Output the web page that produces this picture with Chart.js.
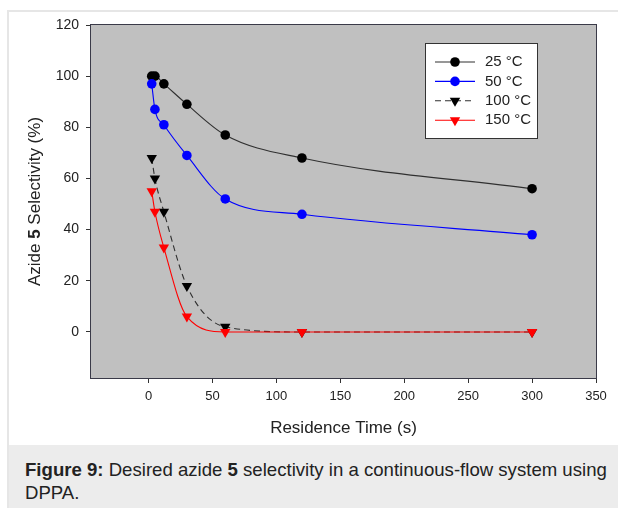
<!DOCTYPE html>
<html>
<head>
<meta charset="utf-8">
<script src="https://cdn.jsdelivr.net/npm/chart.js@4.4.1/dist/chart.umd.min.js"></script>
<style>
  html, body { margin: 0; padding: 0; background: #fff; }
  #page { position: relative; width: 618px; height: 508px; overflow: hidden; font-family: "Liberation Sans", Arial, sans-serif; }
  #frame { position: absolute; left: 7px; top: 10px; width: 611px; height: 498px;
           border-top: 2px solid #e6e6e6; border-left: 2px solid #e6e6e6; box-sizing: border-box; }
  #chartBox { position: absolute; left: 0; top: 0; width: 618px; height: 445px; }
  #caption { position: absolute; left: 9px; top: 445px; width: 609px; height: 63px; background: #ececec;
             box-sizing: border-box; padding: 13px 2px 0 16px; font-size: 18.6px; line-height: 23px; color: #222; }
</style>
</head>
<body>
<div id="page">
  <div id="frame"></div>
  <div id="chartBox"><canvas id="c" width="618" height="445"></canvas></div>
  <div id="caption"><b>Figure 9:</b> Desired azide <b>5</b> selectivity in a continuous-flow system using DPPA.</div>
</div>
<script>
// Residence times (s)
const times = [2.5, 5, 12, 30, 60, 120, 300];
// Azide 5 selectivity (%) at each temperature
const sel25 = [100, 100, 97, 89, 77, 68, 56];
const sel50 = [97, 87, 81, 69, 52, 46, 38];
const sel100 = [68, 60, 47, 18, 2, 0, 0];
const sel150 = [55, 47, 33, 6, 0, 0, 0];
const seriesLabels = ['25 °C', '50 °C', '100 °C', '150 °C'];
const xTicks = [0, 50, 100, 150, 200, 250, 300, 350];
const yTicks = [0, 20, 40, 60, 80, 100, 120];

const FONT = '"Liberation Sans", Arial, sans-serif';
const pts = arr => times.map((t, i) => ({ x: t, y: arr[i] }));

function series(label, values, color, markerColor, style, dash, order) {
  const tri = style === 'triangle';
  return {
    label, data: pts(values), showLine: true,
    borderColor: color, backgroundColor: markerColor, borderWidth: 1.1,
    borderDash: dash, cubicInterpolationMode: 'monotone',
    pointStyle: style, pointRotation: tri ? 180 : 0,
    pointRadius: tri ? 6 : 4.8, pointBorderWidth: 0,
    pointBackgroundColor: markerColor,
    order
  };
}

const datasets = [
  series(seriesLabels[0], sel25, '#303030', '#000', 'circle', [], 4),
  series(seriesLabels[1], sel50, '#0000ff', '#0000ff', 'circle', [], 3),
  series(seriesLabels[2], sel100, '#303030', '#000', 'triangle', [6, 4], 2),
  series(seriesLabels[3], sel150, '#ff0000', '#ff0000', 'triangle', [], 1)
];

// grey plot background and frame around the data area
const plotFrame = {
  id: 'plotFrame',
  beforeDatasetsDraw(chart) {
    const { ctx, chartArea: a } = chart;
    ctx.save();
    ctx.fillStyle = '#c0c0c0';
    ctx.fillRect(a.left, a.top, a.right - a.left, a.bottom - a.top);
    ctx.strokeStyle = '#3a3a48';
    ctx.lineWidth = 1;
    ctx.strokeRect(Math.round(a.left) - 0.5, Math.round(a.top) - 0.5,
                   Math.round(a.right - a.left) + 1, Math.round(a.bottom - a.top) + 1);
    ctx.restore();
  }
};

// y-axis title with bold compound number
const yTitle = {
  id: 'yTitle',
  afterDraw(chart) {
    const { ctx, chartArea: a } = chart;
    const parts = [['Azide ', 'normal'], ['5', 'bold'], [' Selectivity (%)', 'normal']];
    ctx.save();
    ctx.translate(35, (a.top + a.bottom) / 2);
    ctx.rotate(-Math.PI / 2);
    ctx.fillStyle = '#222';
    ctx.textBaseline = 'middle';
    let total = 0;
    parts.forEach(([t, w]) => { ctx.font = w + ' 17px ' + FONT; total += ctx.measureText(t).width; });
    let x = -total / 2;
    parts.forEach(([t, w]) => {
      ctx.font = w + ' 17px ' + FONT;
      ctx.fillText(t, x, 0);
      x += ctx.measureText(t).width;
    });
    ctx.restore();
  }
};

// legend box inside the plot, upper right
const boxLegend = {
  id: 'boxLegend',
  afterDatasetsDraw(chart) {
    const { ctx, chartArea: a } = chart;
    const left = a.right - 171, top = a.top + 18, w = 112, h = 95;
    ctx.save();
    ctx.fillStyle = '#fff';
    ctx.fillRect(left, top, w, h);
    ctx.strokeStyle = '#333';
    ctx.lineWidth = 1;
    ctx.strokeRect(left + 0.5, top + 0.5, w, h);
    chart.data.datasets.forEach((ds, i) => {
      const y = top + 19 + i * 19.4;
      ctx.strokeStyle = ds.borderColor;
      ctx.lineWidth = 1.1;
      ctx.setLineDash(ds.borderDash || []);
      ctx.beginPath();
      ctx.moveTo(left + 10, y);
      ctx.lineTo(left + 50, y);
      ctx.stroke();
      ctx.setLineDash([]);
      ctx.fillStyle = ds.pointBackgroundColor;
      ctx.strokeStyle = ds.pointBackgroundColor;
      Chart.helpers.drawPoint(ctx, {
        pointStyle: ds.pointStyle, rotation: ds.pointRotation,
        radius: ds.pointRadius, borderWidth: 0
      }, left + 30, y);
      ctx.fillStyle = '#222';
      ctx.font = '15px ' + FONT;
      ctx.textBaseline = 'middle';
      ctx.fillText(ds.label, left + 60, y);
    });
    ctx.restore();
  }
};

new Chart(document.getElementById('c'), {
  type: 'scatter',
  data: { datasets },
  plugins: [plotFrame, boxLegend, yTitle],
  options: {
    responsive: false,
    animation: false,
    layout: { padding: { top: 25, right: 22, left: 0, bottom: 0 } },
    plugins: { legend: { display: false }, tooltip: { enabled: false } },
    scales: {
      x: {
        type: 'linear', min: -45, max: 350,
        afterBuildTicks: s => { s.ticks = xTicks.map(v => ({ value: v })); },
        afterFit: s => { s.height = 67; },
        grid: { drawOnChartArea: false, drawTicks: true, tickLength: 5, color: '#333' },
        border: { display: false },
        ticks: { padding: 6, color: '#222', font: { family: FONT, size: 13 }, maxRotation: 0 },
        title: { display: true, text: 'Residence Time (s)', color: '#222',
                 font: { family: FONT, size: 17 }, padding: { top: 0, bottom: 6 } }
      },
      y: {
        type: 'linear', min: -18, max: 120,
        afterBuildTicks: s => { s.ticks = yTicks.map(v => ({ value: v })); },
        afterFit: s => { s.width = 91; },
        grid: { drawOnChartArea: false, drawTicks: true, tickLength: 5, color: '#333' },
        border: { display: false },
        ticks: { padding: 7, color: '#222', font: { family: FONT, size: 14 } }
      }
    }
  }
});
</script>
</body>
</html>
